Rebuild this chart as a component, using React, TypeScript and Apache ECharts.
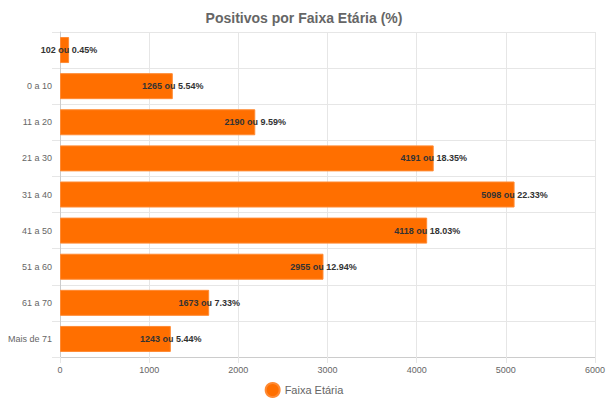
import React, { useEffect, useRef } from "react";
import * as echarts from "echarts";

const categories = ["", "0 a 10", "11 a 20", "21 a 30", "31 a 40", "41 a 50", "51 a 60", "61 a 70", "Mais de 71"];
const values = [102, 1265, 2190, 4191, 5098, 4118, 2955, 1673, 1243];
const percents = ["0.45", "5.54", "9.59", "18.35", "22.33", "18.03", "12.94", "7.33", "5.44"];
const xTicks = [0, 1000, 2000, 3000, 4000, 5000, 6000];

export default function App() {
  const ref = useRef<HTMLDivElement>(null);
  useEffect(() => {
    document.body.style.margin = "0";
    document.body.style.overflow = "hidden";
    if (!ref.current) return;
    const chart = echarts.init(ref.current, null, { renderer: "svg", width: 608, height: 403 });
    const font = "Helvetica, Arial, 'Liberation Sans', sans-serif";
    chart.setOption({
      animation: false,
      textStyle: { fontFamily: font },
      title: {
        text: "Positivos por Faixa Etária (%)",
        left: "center",
        top: 6,
        textStyle: { fontSize: 14, fontWeight: "bold", color: "#666", fontFamily: font },
      },
      legend: {
        bottom: 0,
        left: "center",
        icon: "circle",
        itemWidth: 14,
        itemHeight: 14,
        itemGap: 6,
        textStyle: { fontSize: 11, color: "#666", fontFamily: font },
        data: ["Faixa Etária"],
      },
      grid: { left: 60, right: 8, top: 32, bottom: 46, containLabel: false },
      xAxis: {
        type: "value",
        min: xTicks[0],
        max: xTicks[xTicks.length - 1],
        interval: 1000,
        axisLine: { show: true, lineStyle: { color: "#ccc" } },
        axisTick: { show: true, length: 6, lineStyle: { color: "#e6e6e6" } },
        axisLabel: {
          fontSize: 9,
          color: "#666",
          margin: 8,
          fontFamily: font,
          formatter: (v: number) => String(v),
        },
        splitLine: { show: true, lineStyle: { color: "#e6e6e6" } },
      },
      yAxis: {
        type: "category",
        inverse: true,
        data: categories,
        axisLine: { show: true, lineStyle: { color: "#ccc" } },
        axisTick: { show: true, length: 8, lineStyle: { color: "#e6e6e6" } },
        axisLabel: { fontSize: 9, color: "#666", margin: 8, fontFamily: font },
        splitLine: { show: true, lineStyle: { color: "#e6e6e6" } },
      },
      series: [
        {
          name: "Faixa Etária",
          type: "bar",
          data: values,
          barWidth: 26,
          itemStyle: { color: "#ff6f00", borderColor: "#ff8a33", borderWidth: 1 },
          label: {
            show: true,
            position: ["100%", "50%"],
            align: "center",
            verticalAlign: "middle",
            fontSize: 9,
            fontWeight: "bold",
            color: "#333",
            fontFamily: font,
            formatter: (p: any) => `${values[p.dataIndex]} ou ${percents[p.dataIndex]}%`,
          },
        },
      ],
    });
    return () => chart.dispose();
  }, []);
  return <div ref={ref} style={{ width: 608, height: 403 }} />;
}
